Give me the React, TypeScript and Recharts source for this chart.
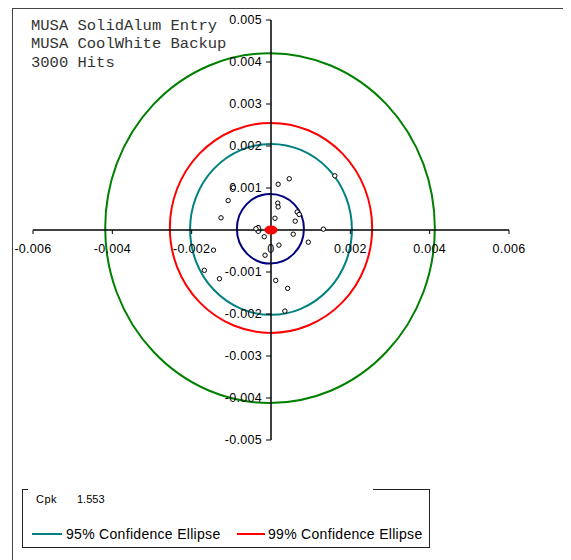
import { ScatterChart, Scatter, XAxis, YAxis, ReferenceLine, ReferenceArea, ReferenceDot } from "recharts";

// header text and stats
const infoLines = ["MUSA SolidAlum Entry", "MUSA CoolWhite Backup", "3000 Hits"];
const cpkValue = "1.553";

// axis ticks
const xTicks = [-0.006, -0.004, -0.002, 0, 0.002, 0.004, 0.006];
const yTicks = [0.005, 0.004, 0.003, 0.002, 0.001, 0, -0.001, -0.002, -0.003, -0.004, -0.005];

// individual hits
const hitX = [-0.00095, -0.00108, -0.00126, -0.00038, -0.00017, 0.00018, 0.00046, 0.00161, 0.00017, 0.00018, 0.0001, 0.00061, 0.00066, 0.00071, 0.00056, 0.00132, 0.00094, 0.0002, -0.00015, -0.00145, -0.00168, -0.0013, 0.00012, 0.00042, 0.00035];
const hitY = [0.00101, 0.0007, 0.00029, 0.00003, -0.00016, 0.00109, 0.00122, 0.00129, 0.00064, 0.00055, 0.00028, 0.00021, 0.00043, 0.00037, -0.0001, 0.00002, -0.00029, -0.00036, -0.0006, -0.00048, -0.00096, -0.00116, -0.0012, -0.00139, -0.00193];

// mean point
const meanX = [0];
const meanY = [0];

// ellipse bounds (inner sigma, 95%, 99%, spec)
const ellipseNames = ["Sigma", "95% Confidence Ellipse", "99% Confidence Ellipse", "Spec"];
const ellipseX1 = [-0.00086, -0.00204, -0.00255, -0.00418];
const ellipseX2 = [0.00083, 0.00204, 0.00255, 0.00413];
const ellipseY1 = [-0.0008, -0.00202, -0.00245, -0.00412];
const ellipseY2 = [0.00086, 0.00205, 0.00255, 0.00421];
const ellipseColors = ["#000080", "#008080", "#ff0000", "#008000"];

const legendNames = ["95% Confidence Ellipse", "99% Confidence Ellipse"];

const hits = hitX.map((x, i) => ({ x, y: hitY[i] }));
const mean = meanX.map((x, i) => ({ x, y: meanY[i] }));

const fmt = (v: number) => (v === 0 ? "0" : v.toFixed(3));
const tickFont = { fontFamily: "'Liberation Sans', Arial, sans-serif", fontSize: 12.5, letterSpacing: 0.3 };

const EllipseShape = (color: string) => (p: any) => (
  <ellipse
    cx={p.x + p.width / 2}
    cy={p.y + p.height / 2}
    rx={Math.abs(p.width / 2)}
    ry={Math.abs(p.height / 2)}
    fill="none"
    stroke={color}
    strokeWidth={2}
  />
);

const XTickShape = (label: string) => (p: any) => (
  <g>
    <line x1={p.cx} y1={p.cy} x2={p.cx} y2={p.cy + 4} stroke="#000" strokeWidth={1} />
    <text x={p.cx} y={p.cy + 19} textAnchor="middle" dominantBaseline="central" fill="#000" style={tickFont}>
      {label}
    </text>
  </g>
);

const YTickShape = (label: string) => (p: any) => (
  <g>
    <line x1={p.cx - 5} y1={p.cy} x2={p.cx} y2={p.cy} stroke="#000" strokeWidth={1} />
    <text x={p.cx - 9} y={p.cy} textAnchor="end" dominantBaseline="central" fill="#000" style={tickFont}>
      {label}
    </text>
  </g>
);

const HitDot = (p: any) => <circle cx={p.cx} cy={p.cy} r={2.2} fill="#fff" stroke="#000" strokeWidth={1} />;
const MeanDot = (p: any) => <ellipse cx={p.cx} cy={p.cy} rx={6.5} ry={4.5} fill="#ff0000" />;

export default function App() {
  return (
    <div style={{ position: "relative", width: 563, height: 552, overflow: "hidden", background: "#fff" }}>
      <div style={{ position: "absolute", left: 4, top: 0, width: 700, height: 700, border: "1px solid #444" }} />
      <div style={{ position: "absolute", left: 0, top: 0 }}>
        <ScatterChart width={520} height={460} margin={{ top: 12, right: 19, bottom: 28, left: 25 }}>
          <XAxis type="number" dataKey="x" domain={[-0.006, 0.006]} hide allowDataOverflow />
          <YAxis type="number" dataKey="y" domain={[-0.005, 0.005]} hide allowDataOverflow />
          <ReferenceLine x={0} stroke="#000" strokeWidth={1.5} />
          <ReferenceLine y={0} stroke="#000" strokeWidth={1.5} />
          {ellipseNames.map((n, i) => (
            <ReferenceArea
              key={n}
              x1={ellipseX1[i]}
              x2={ellipseX2[i]}
              y1={ellipseY1[i]}
              y2={ellipseY2[i]}
              ifOverflow="visible"
              shape={EllipseShape(ellipseColors[i])}
            />
          ))}
          {xTicks.map((v) => (
            <ReferenceDot key={"x" + v} x={v} y={0} r={0} ifOverflow="visible" shape={XTickShape(fmt(v))} />
          ))}
          {yTicks.map((v) => (
            <ReferenceDot key={"y" + v} x={0} y={v} r={0} ifOverflow="visible" shape={YTickShape(fmt(v))} />
          ))}
          <Scatter data={hits} shape={HitDot} isAnimationActive={false} />
          <Scatter data={mean} shape={MeanDot} isAnimationActive={false} />
        </ScatterChart>
      </div>
      {infoLines.map((t, i) => (
        <div
          key={t}
          style={{
            position: "absolute",
            left: 23,
            top: 8.5 + i * 18.5,
            lineHeight: "18px",
            fontSize: 15.5,
            fontFamily: "'Liberation Mono', 'Courier New', monospace",
            color: "#333",
            whiteSpace: "pre",
          }}
        >
          {t}
        </div>
      ))}
      {/* legend box */}
      <div
        style={{
          position: "absolute",
          left: 14,
          top: 481,
          width: 406,
          height: 58,
          borderLeft: "1px solid #222",
          borderRight: "1px solid #222",
          borderBottom: "1px solid #222",
        }}
      />
      <div style={{ position: "absolute", left: 14, top: 481, width: 6, height: 0, borderTop: "1px solid #222" }} />
      <div style={{ position: "absolute", left: 365, top: 481, width: 56, height: 0, borderTop: "1px solid #222" }} />
      <div style={{ position: "absolute", left: 28, top: 484, fontSize: 11, lineHeight: "14px", fontFamily: "'Liberation Sans', Arial, sans-serif", letterSpacing: 0.5, color: "#000" }}>
        Cpk
      </div>
      <div style={{ position: "absolute", left: 69, top: 484, fontSize: 11, lineHeight: "14px", fontFamily: "'Liberation Sans', Arial, sans-serif", color: "#000" }}>
        {cpkValue}
      </div>
      {legendNames.map((n, i) => (
        <div key={n} style={{ position: "absolute", left: i === 0 ? 24 : 229, top: 517, display: "flex", alignItems: "center", height: 18 }}>
          <div style={{ width: i === 0 ? 30 : 28, height: 2.5, background: ellipseColors[i + 1], marginRight: i === 0 ? 4 : 3 }} />
          <span style={{ fontSize: 14, fontFamily: "'Liberation Sans', Arial, sans-serif", letterSpacing: 0.3, color: "#000", whiteSpace: "pre" }}>
            {n}
          </span>
        </div>
      ))}
    </div>
  );
}
